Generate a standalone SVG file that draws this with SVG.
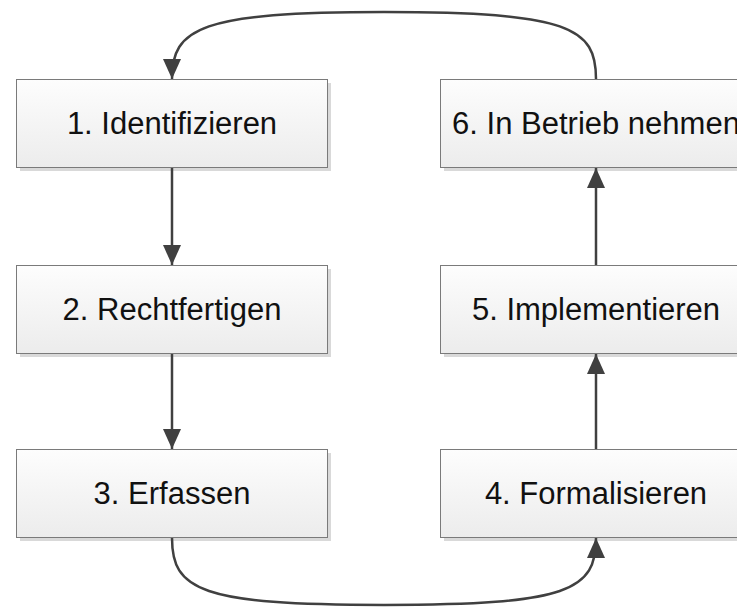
<svg xmlns="http://www.w3.org/2000/svg" width="737" height="609" viewBox="0 0 737 609">
<defs>
<linearGradient id="g" x1="0" y1="0" x2="0" y2="1">
<stop offset="0" stop-color="#fdfdfd"/>
<stop offset="1" stop-color="#ececec"/>
</linearGradient>
<marker id="ah" markerUnits="userSpaceOnUse" markerWidth="20" markerHeight="24" viewBox="0 0 20 24" refX="20" refY="12" orient="auto">
<path d="M0,3 L20,12 L0,21 Z" fill="#404040"/>
</marker>
<style>
.sh{fill:#d9d9d9}
.bx{fill:url(#g);stroke:#7a7a7a;stroke-width:1}
.t{font-family:"Liberation Sans","DejaVu Sans",sans-serif;font-size:31px;fill:#111;text-anchor:middle}
.c{fill:none;stroke:#404040;stroke-width:2.5;marker-end:url(#ah)}
</style>
</defs>
<rect width="737" height="609" fill="#fff"/>
<g id="node1"><rect class="sh" x="20" y="83" width="311" height="88"/><rect class="bx" x="16.5" y="79.5" width="311" height="88"/><text class="t" x="172" y="134">1. Identifizieren</text></g>
<g id="node2"><rect class="sh" x="20" y="269" width="311" height="88"/><rect class="bx" x="16.5" y="265.5" width="311" height="88"/><text class="t" x="172" y="320">2. Rechtfertigen</text></g>
<g id="node3"><rect class="sh" x="20" y="453" width="311" height="88"/><rect class="bx" x="16.5" y="449.5" width="311" height="88"/><text class="t" x="172" y="504">3. Erfassen</text></g>
<g id="node4"><rect class="sh" x="444" y="453" width="311" height="88"/><rect class="bx" x="440.5" y="449.5" width="311" height="88"/><text class="t" x="596" y="504">4. Formalisieren</text></g>
<g id="node5"><rect class="sh" x="444" y="269" width="311" height="88"/><rect class="bx" x="440.5" y="265.5" width="311" height="88"/><text class="t" x="596" y="320">5. Implementieren</text></g>
<g id="node6"><rect class="sh" x="444" y="83" width="311" height="88"/><rect class="bx" x="440.5" y="79.5" width="311" height="88"/><text class="t" x="596" y="134">6. In Betrieb nehmen</text></g>
<g id="connectors">
<path class="c" d="M172,168 L172,265"/>
<path class="c" d="M172,354 L172,449"/>
<path class="c" d="M596,449 L596,354"/>
<path class="c" d="M596,265 L596,168"/>
<path class="c" d="M596,79 C596,28 570,12 384,12 C200,12 172,28 172,79"/>
<path class="c" d="M172,538 C172,590 200,605 384,605 C570,605 596,590 596,538"/>
</g>
</svg>
